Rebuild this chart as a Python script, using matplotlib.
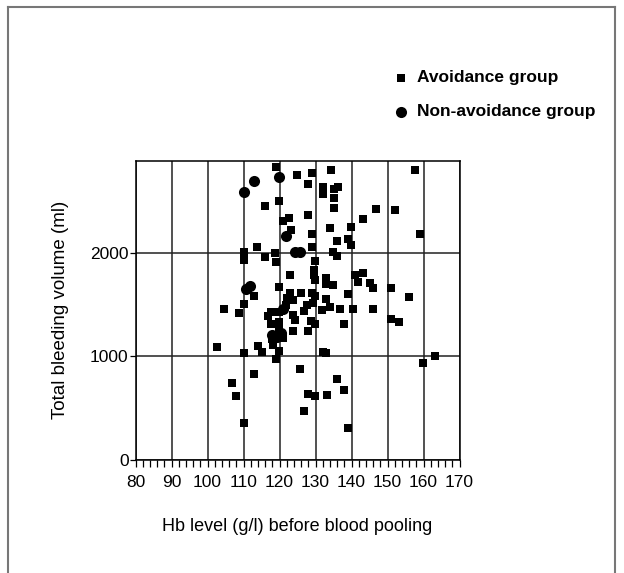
import matplotlib
matplotlib.use("Agg")
import matplotlib.pyplot as plt
import matplotlib.ticker as mticker
from matplotlib.lines import Line2D

# --- global style ---
plt.rcParams['font.family'] = ['Liberation Sans', 'DejaVu Sans']
TICK_FONTSIZE = 12.5
LABEL_FONTSIZE = 13
LEGEND_FONTSIZE = 12.5

# --- data ---
# avoidance group (squares): Hb level (g/l), total bleeding volume (ml)
avoid_hb = [
    119.0, 116.0, 119.9, 120.9, 122.7, 113.8, 110.0, 118.8, 124.9, 128.9,
    128.0, 134.2, 132.2, 132.0, 135.2, 136.2, 135.2, 135.2, 128.0, 123.2,
    134.0, 139.8, 143.3, 146.8, 128.9, 135.9, 139.0, 139.8, 128.9, 134.9,
    136.0, 157.5, 152.1, 159.0, 141.1, 143.2, 141.9, 145.0, 146.1, 150.9,
    156.1, 139.1, 132.9, 132.9, 134.9, 132.9, 134.0, 136.8, 140.5, 146.1,
    129.9, 129.7, 129.7, 129.9, 122.9, 122.9, 126.0, 128.9, 129.9, 122.2,
    123.8, 121.8, 127.7, 129.4, 126.9, 131.9, 123.8, 124.3, 128.7, 129.9,
    138.0, 123.8, 128.0, 110.0, 116.0, 118.9, 119.9, 112.9, 110.0, 104.7,
    108.7, 117.6, 116.7, 119.9, 119.9, 113.9, 102.6, 118.3, 119.9, 117.5,
    119.9, 115.0, 132.1, 133.0, 106.9, 108.0, 110.1, 112.9, 110.1, 118.9,
    125.8, 127.9, 129.8, 133.1, 126.9, 136.0, 137.9, 139.1, 159.9, 163.1,
    151.0, 153.2, 118.0, 121.0,
]
avoid_vol = [
    2838, 2464, 2510, 2318, 2342, 2066, 2018, 2008, 2762, 2779,
    2675, 2811, 2649, 2575, 2626, 2643, 2542, 2445, 2374, 2228,
    2250, 2260, 2332, 2430, 2186, 2121, 2138, 2083, 2066, 2018,
    1975, 2811, 2420, 2186, 1791, 1808, 1726, 1711, 1662, 1662,
    1575, 1607, 1759, 1704, 1694, 1555, 1478, 1458, 1458, 1458,
    1930, 1840, 1791, 1743, 1791, 1614, 1614, 1620, 1588, 1565,
    1549, 1500, 1500, 1517, 1445, 1451, 1403, 1354, 1348, 1316,
    1316, 1248, 1248, 1937, 1963, 1915, 1672, 1590, 1510, 1461,
    1425, 1435, 1393, 1338, 1257, 1105, 1089, 1112, 1429, 1313,
    1053, 1041, 1043, 1033, 740, 619, 359, 831, 1033, 975,
    877, 635, 616, 626, 469, 779, 674, 310, 941, 1000,
    1359, 1332, 1170, 1175,
]

# non-avoidance group (circles)
nonavoid_hb = [110.0, 112.9, 119.9, 121.8, 124.3, 125.6, 110.7, 111.8,
               121.0, 117.8, 119.3, 120.5]
nonavoid_vol = [2594, 2704, 2740, 2170, 2018, 2018, 1650, 1680,
                1458, 1210, 1190, 1230]

x_ticks = [80, 90, 100, 110, 120, 130, 140, 150, 160, 170]
y_ticks = [0, 1000, 2000]

# --- figure ---
fig = plt.figure(figsize=(6.24, 5.73), dpi=100)
ax = fig.add_axes([135.5 / 624, 1 - 459.5 / 573, 324 / 624, 298.8 / 573])

sq = ax.scatter(avoid_hb, avoid_vol, marker='s', s=26, color='black',
                linewidths=0, zorder=3, label='Avoidance group')
ci = ax.scatter(nonavoid_hb, nonavoid_vol, marker='o', s=64, color='black',
                linewidths=0, zorder=4, label='Non-avoidance group')

ax.set_xlim(80, 170)
ax.set_ylim(0, 2900)
ax.set_xticks(x_ticks)
ax.set_yticks(y_ticks)
ax.xaxis.set_minor_locator(mticker.MultipleLocator(2))
ax.tick_params(axis='x', which='both', direction='out', length=5, width=0.9,
               labelsize=TICK_FONTSIZE, pad=6.5)
ax.tick_params(axis='y', which='major', direction='out', length=4, width=0.9,
               labelsize=TICK_FONTSIZE, pad=1)

# grid only on major positions
ax.grid(True, which='major', color='#222222', linewidth=1.1)
ax.set_axisbelow(True)
for sp in ax.spines.values():
    sp.set_linewidth(1.1)

ax.set_xlabel('Hb level (g/l) before blood pooling', fontsize=LABEL_FONTSIZE,
              labelpad=20)
ax.set_ylabel('Total bleeding volume (ml)', fontsize=13.5,
              labelpad=15)

fig.legend(handles=[sq, ci], loc='upper left',
           bbox_to_anchor=(392 / 624, 1 - 70 / 573),
           frameon=False, scatterpoints=1,
           handlelength=1.0, handletextpad=0.45, labelspacing=1.1,
           borderpad=0, borderaxespad=0, prop={'weight': 'bold',
                                               'size': LEGEND_FONTSIZE})

# outer frame of the original figure panel
border = dict(color='#777777', linewidth=1.5, transform=fig.transFigure)
fig.add_artist(Line2D([8 / 624, 8 / 624], [0, 1 - 7 / 573], **border))
fig.add_artist(Line2D([8 / 624, 615 / 624], [1 - 7 / 573, 1 - 7 / 573], **border))
fig.add_artist(Line2D([615 / 624, 615 / 624], [0, 1 - 7 / 573], **border))

fig.savefig('out.png', dpi=100)
